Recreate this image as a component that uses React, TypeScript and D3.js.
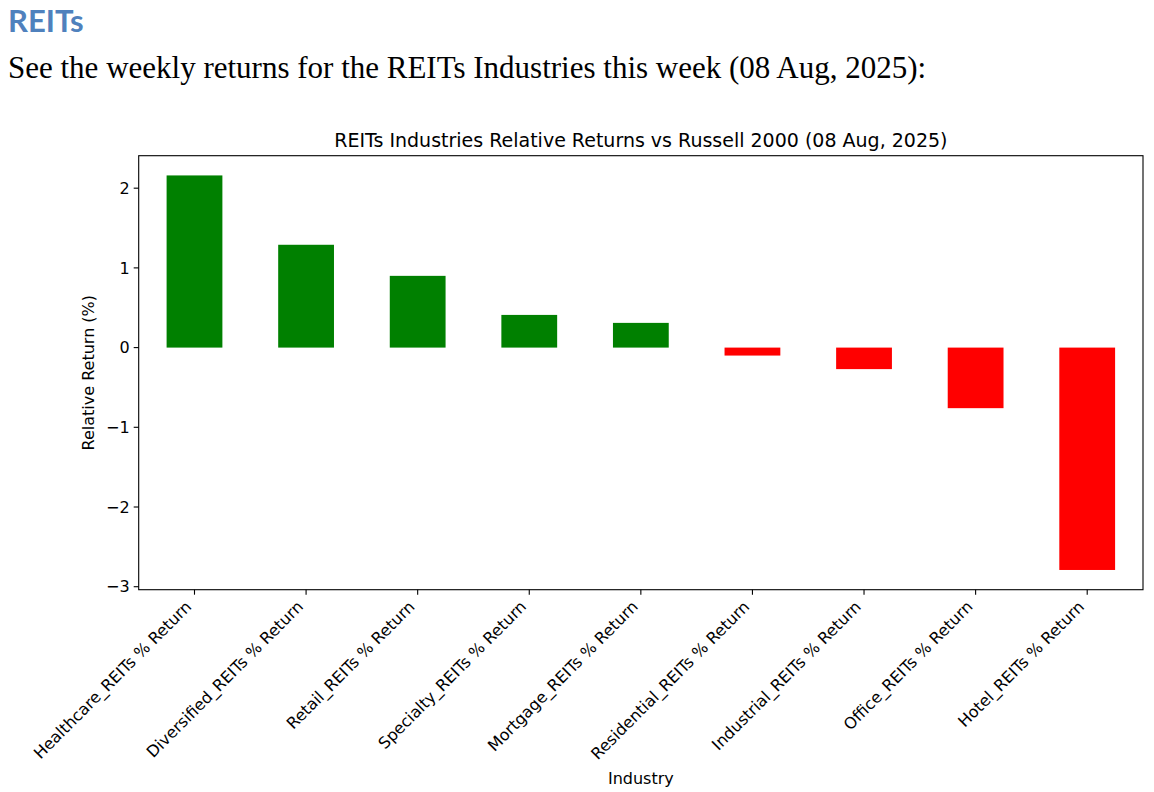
import React, { useEffect, useRef } from "react";
import * as d3 from "d3";

const categories = [
  "Healthcare_REITs % Return",
  "Diversified_REITs % Return",
  "Retail_REITs % Return",
  "Specialty_REITs % Return",
  "Mortgage_REITs % Return",
  "Residential_REITs % Return",
  "Industrial_REITs % Return",
  "Office_REITs % Return",
  "Hotel_REITs % Return",
];
const values = [2.16, 1.29, 0.9, 0.41, 0.31, -0.1, -0.27, -0.76, -2.79];
const yTicks = [2, 1, 0, -1, -2, -3];

const W = 1154;
const H = 792;
const M = { left: 138.7, right: 1143, top: 155.7, bottom: 589.7 };

export default function App() {
  const ref = useRef<SVGSVGElement>(null);
  useEffect(() => {
    const svg = d3.select(ref.current);
    svg.selectAll("*").remove();
    svg.append("rect").attr("width", W).attr("height", H).attr("fill", "#fff");

    // header
    svg.append("text").attr("x", 8).attr("y", 32)
      .attr("font-family", "Lato, 'Open Sans', sans-serif").attr("font-weight", 700)
      .attr("font-size", 31).attr("fill", "#4f81bd").text("REITs");
    svg.append("text").attr("x", 8).attr("y", 78)
      .attr("font-family", "'Liberation Serif', 'DejaVu Serif', serif")
      .attr("font-size", 31).attr("fill", "#000")
      .text("See the weekly returns for the REITs Industries this week (08 Aug, 2025):");

    const ymin = Math.min(...values), ymax = Math.max(...values);
    const pad = (ymax - ymin) * 0.05;
    const y = d3.scaleLinear().domain([ymin - pad, ymax + pad]).range([M.bottom, M.top]);
    const x = d3.scaleLinear().domain([-0.5, categories.length - 0.5]).range([M.left, M.right]);
    const font = "'DejaVu Sans', sans-serif";

    // bars
    svg.append("g").selectAll("rect").data(values).join("rect")
      .attr("x", (_, i) => x(i - 0.25))
      .attr("width", x(0.25) - x(-0.25))
      .attr("y", (d) => y(Math.max(0, d)))
      .attr("height", (d) => Math.abs(y(d) - y(0)))
      .attr("fill", (d) => (d >= 0 ? "#008000" : "#ff0000"));

    // frame
    svg.append("rect").attr("x", M.left).attr("y", M.top)
      .attr("width", M.right - M.left).attr("height", M.bottom - M.top)
      .attr("fill", "none").attr("stroke", "#000").attr("stroke-width", 1.1);

    // y axis
    const ya = svg.append("g");
    yTicks.forEach((t) => {
      ya.append("line").attr("x1", M.left - 5).attr("x2", M.left)
        .attr("y1", y(t)).attr("y2", y(t)).attr("stroke", "#000").attr("stroke-width", 1.1);
      ya.append("text").attr("x", M.left - 9).attr("y", y(t)).attr("dy", "0.36em")
        .attr("text-anchor", "end").attr("font-family", font).attr("font-size", 16)
        .attr("fill", "#000").text(t < 0 ? "\u2212" + Math.abs(t) : String(t));
    });

    // x axis
    const xa = svg.append("g");
    categories.forEach((c, i) => {
      xa.append("line").attr("x1", x(i)).attr("x2", x(i))
        .attr("y1", M.bottom).attr("y2", M.bottom + 5).attr("stroke", "#000").attr("stroke-width", 1.1);
      const px = x(i) - 2, py = M.bottom + 18;
      xa.append("text").attr("transform", `translate(${px},${py}) rotate(-45)`)
        .attr("text-anchor", "end").attr("font-family", font).attr("font-size", 16)
        .attr("fill", "#000").text(c);
    });

    svg.append("text").attr("x", (M.left + M.right) / 2).attr("y", 147)
      .attr("text-anchor", "middle").attr("font-family", font).attr("font-size", 19)
      .attr("fill", "#000").text("REITs Industries Relative Returns vs Russell 2000 (08 Aug, 2025)");
    svg.append("text").attr("x", (M.left + M.right) / 2).attr("y", 784)
      .attr("text-anchor", "middle").attr("font-family", font).attr("font-size", 16)
      .attr("fill", "#000").text("Industry");
    svg.append("text").attr("transform", `translate(94,${(M.top + M.bottom) / 2}) rotate(-90)`)
      .attr("text-anchor", "middle").attr("font-family", font).attr("font-size", 16)
      .attr("fill", "#000").text("Relative Return (%)");
  }, []);
  return (
    <svg ref={ref} width={W} height={H} style={{ position: "absolute", left: 0, top: 0 }} />
  );
}
